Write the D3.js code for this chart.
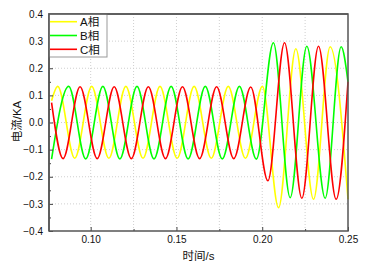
<!DOCTYPE html>
<html>
<head>
<meta charset="utf-8">
<script src="https://cdn.jsdelivr.net/npm/d3@7"></script>
<style>
  body { margin: 0; background: #fff; }
  text { font-family: Arial, "Liberation Sans", "Noto Sans CJK SC", sans-serif; }
</style>
</head>
<body>
<div id="chart"></div>
<script>
// extrema of each phase current (time in s, current in kA)
const timeA = [0.0772, 0.0808, 0.0907, 0.1006, 0.1106, 0.1205, 0.1305, 0.1404, 0.1504, 0.1603, 0.1703, 0.1802, 0.1902, 0.2001, 0.2095, 0.2196, 0.2299, 0.2396, 0.2500];
const currentA = [0.080, 0.133, -0.132, 0.133, -0.132, 0.133, -0.132, 0.133, -0.132, 0.133, -0.132, 0.133, -0.132, 0.133, -0.314, 0.272, -0.283, 0.279, -0.283];

const timeB = [0.0772, 0.0872, 0.0971, 0.1071, 0.1170, 0.1270, 0.1369, 0.1469, 0.1568, 0.1668, 0.1767, 0.1867, 0.1966, 0.2065, 0.2163, 0.2260, 0.2367, 0.2460, 0.2500];
const currentB = [-0.135, 0.133, -0.134, 0.133, -0.134, 0.133, -0.134, 0.133, -0.134, 0.133, -0.134, 0.133, -0.135, 0.294, -0.277, 0.281, -0.279, 0.279, 0.150];

const timeC = [0.0772, 0.0839, 0.0938, 0.1038, 0.1137, 0.1237, 0.1336, 0.1436, 0.1535, 0.1635, 0.1734, 0.1834, 0.1933, 0.2033, 0.2130, 0.2231, 0.2328, 0.2431, 0.2500];
const currentC = [0.073, -0.133, 0.132, -0.133, 0.132, -0.133, 0.132, -0.133, 0.132, -0.133, 0.132, -0.133, 0.131, -0.215, 0.294, -0.279, 0.281, -0.283, 0.150];

const seriesNames = ["A相", "B相", "C相"];
const seriesColors = ["#ffff00", "#00ff00", "#ff0000"];
const xTicks = [0.10, 0.15, 0.20, 0.25];
const xGrid = [0.10, 0.125, 0.15, 0.175, 0.20, 0.225];
const yTicks = [-0.4, -0.3, -0.2, -0.1, 0.0, 0.1, 0.2, 0.3, 0.4];

const W = 365, H = 269;
const margin = {top: 14, right: 17, bottom: 38, left: 49};
const width = W - margin.left - margin.right;
const height = H - margin.top - margin.bottom;

const svg = d3.select("#chart").append("svg")
  .attr("width", W)
  .attr("height", H);

const g = svg.append("g")
  .attr("transform", `translate(${margin.left},${margin.top})`);

const x = d3.scaleLinear().domain([0.0757, 0.25]).range([0, width]);
const y = d3.scaleLinear().domain([-0.4, 0.4]).range([height, 0]);

// grid
g.selectAll(".vgrid")
  .data(xGrid)
  .enter()
  .append("line")
  .attr("x1", d => x(d)).attr("x2", d => x(d))
  .attr("y1", 0).attr("y2", height)
  .attr("stroke", "#cfcfcf")
  .attr("stroke-width", 1)
  .attr("stroke-dasharray", "1,2");

g.selectAll(".hgrid")
  .data(yTicks.slice(1, -1))
  .enter()
  .append("line")
  .attr("x1", 0).attr("x2", width)
  .attr("y1", d => y(d)).attr("y2", d => y(d))
  .attr("stroke", "#cfcfcf")
  .attr("stroke-width", 1)
  .attr("stroke-dasharray", "1,2");

// curves
const line = d3.line()
  .x(d => x(d[0]))
  .y(d => y(d[1]))
  .curve(d3.curveMonotoneX);

const series = [
  d3.zip(timeA, currentA),
  d3.zip(timeB, currentB),
  d3.zip(timeC, currentC)
];

g.selectAll(".phase")
  .data(series)
  .enter()
  .append("path")
  .attr("class", "phase")
  .attr("d", line)
  .attr("fill", "none")
  .attr("stroke", (d, i) => seriesColors[i])
  .attr("stroke-width", 1.6);

// axes
g.append("g")
  .attr("transform", `translate(0,${height})`)
  .call(d3.axisBottom(x).tickValues(xTicks).tickFormat(d3.format(".2f")).tickSizeInner(-4).tickSizeOuter(0).tickPadding(5));

g.append("g")
  .attr("transform", `translate(0,${height})`)
  .call(d3.axisBottom(x).tickValues([0.125, 0.175, 0.225]).tickFormat("").tickSizeInner(-2).tickSizeOuter(0));

g.append("g")
  .call(d3.axisLeft(y).tickValues(yTicks).tickFormat(d3.format(".1f")).tickSizeInner(-4).tickSizeOuter(0).tickPadding(6));

g.append("g")
  .call(d3.axisLeft(y).tickValues(d3.range(-0.35, 0.4, 0.1)).tickFormat("").tickSizeInner(-2).tickSizeOuter(0));

g.selectAll(".domain").attr("stroke", "none");
g.selectAll(".tick line").attr("stroke", "#444");
g.selectAll(".tick text")
  .attr("fill", "#111")
  .style("font-size", "10px");

// frame
g.append("rect")
  .attr("width", width)
  .attr("height", height)
  .attr("fill", "none")
  .attr("stroke", "#555")
  .attr("stroke-width", 1.5);

// legend
const legend = g.append("g");
legend.append("rect")
  .attr("x", 0).attr("y", 0)
  .attr("width", 58).attr("height", 43)
  .attr("fill", "#fff")
  .attr("stroke", "#999")
  .attr("stroke-width", 1);

const item = legend.selectAll(".item")
  .data(seriesNames)
  .enter()
  .append("g")
  .attr("transform", (d, i) => `translate(0,${7.7 + i * 13.8})`);

item.append("line")
  .attr("x1", 1).attr("x2", 28)
  .attr("stroke", (d, i) => seriesColors[i])
  .attr("stroke-width", 1.6);

item.append("text")
  .attr("x", 31)
  .attr("y", 4.5)
  .style("font-size", "11.5px")
  .attr("fill", "#111")
  .text(d => d);

// redraw top/left border over legend
g.append("path")
  .attr("d", `M0,${height}V0H${width}`)
  .attr("fill", "none")
  .attr("stroke", "#555")
  .attr("stroke-width", 1.5);

// titles
svg.append("text")
  .attr("x", margin.left + width / 2)
  .attr("y", 260)
  .attr("text-anchor", "middle")
  .style("font-size", "11.5px")
  .attr("fill", "#111")
  .text("时间/s");

svg.append("text")
  .attr("transform", `translate(20.5,${margin.top + height / 2 - 1})rotate(-90)`)
  .attr("text-anchor", "middle")
  .style("font-size", "11.5px")
  .attr("fill", "#111")
  .text("电流/KA");
</script>
</body>
</html>
